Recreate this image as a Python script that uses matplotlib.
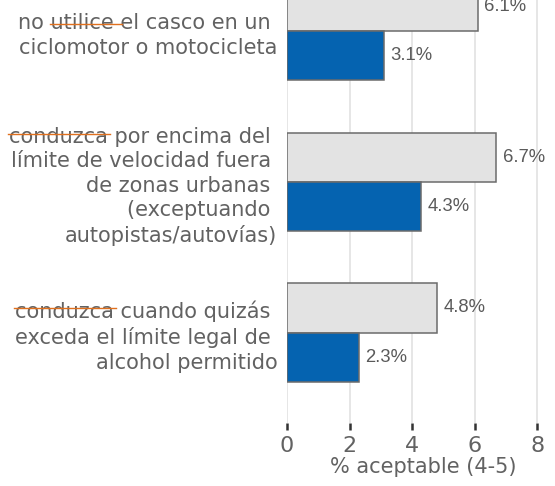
import matplotlib
matplotlib.use("Agg")
import matplotlib.pyplot as plt
from matplotlib.lines import Line2D
import numpy as np

categories = [
    "no utilice el casco en un \nciclomotor o motocicleta",
    "conduzca por encima del \nlímite de velocidad fuera \nde zonas urbanas \n(exceptuando \nautopistas/autovías)",
    "conduzca cuando quizás \nexceda el límite legal de \nalcohol permitido",
]
series_gray = [6.1, 6.7, 4.8]
series_blue = [3.1, 4.3, 2.3]
xticks = [0, 2, 4, 6, 8]
xlabel = "% aceptable (4-5)"
# words marked with an orange line in the first line of each label: (prefix, word, height fraction of x-height)
marked = [("no ", "utilice ", 0.5), ("", "conduzca", 0.8), ("", "conduzca", 0.8)]

gray_fill = "#E3E3E3"
blue_fill = "#0563B0"
edge = "#6B6B6B"
text_col = "#626262"
FS = 15

fig = plt.figure(figsize=(5.55, 4.86), dpi=100)
ax = fig.add_axes([287 / 555, 63 / 486, (559 - 287) / 555, 1 - 63 / 486])

y = np.arange(len(categories))
h = 0.327
ax.barh(y - h / 2, series_gray, height=h, color=gray_fill, edgecolor=edge, linewidth=1.1, zorder=3)
ax.barh(y + h / 2, series_blue, height=h, color=blue_fill, edgecolor=edge, linewidth=1.1, zorder=3)

for yi, v in zip(y - h / 2, series_gray):
    ax.annotate(f"{v:.1f}%", (v, yi), xytext=(4.5, 0), textcoords="offset points",
                ha="left", va="center", fontsize=13.3, color="#5A5A5A",
                family="Liberation Sans")
for yi, v in zip(y + h / 2, series_blue):
    ax.annotate(f"{v:.1f}%", (v, yi), xytext=(4.5, 0), textcoords="offset points",
                ha="left", va="center", fontsize=13.3, color="#5A5A5A",
                family="Liberation Sans")

ax.set_xlim(0, 8.7)
ax.set_ylim(2.6, -0.207)
ax.set_xticks(xticks)
ax.set_xticklabels([str(t) for t in xticks])
ax.set_yticks(y)
ax.set_yticklabels(categories, fontsize=FS, color=text_col, linespacing=1.28)
for lbl in ax.get_yticklabels():
    lbl.set_multialignment("right")

ax.tick_params(axis="y", length=0, pad=7)
ax.tick_params(axis="x", length=5, width=1.8, color="#333333", direction="out",
               labelsize=16, labelcolor=text_col, pad=4)
ax.grid(axis="x", color="#E2E2E2", linewidth=1.2, zorder=0)
ax.set_axisbelow(True)
for s in ax.spines.values():
    s.set_visible(False)

ax.set_xlabel(xlabel, fontsize=15, color=text_col, labelpad=1)

# orange marks through words, positioned from the rendered label extents
fig.canvas.draw()
renderer = fig.canvas.get_renderer()

def text_width(s):
    t = fig.text(0, 0, s, fontsize=FS)
    w = t.get_window_extent(renderer).width
    t.remove()
    return w

xh = text_width("x")
t = fig.text(0, 0, "d", fontsize=FS)
asc = t.get_window_extent(renderer).height
t.remove()
for lbl, (prefix, word, frac) in zip(ax.get_yticklabels(), marked):
    bb = lbl.get_window_extent(renderer)
    first = lbl.get_text().split("\n")[0]
    x0 = bb.x1 - text_width(first) + (text_width(prefix) if prefix else 0)
    x1 = x0 + text_width(word)
    base = bb.y1 - asc * 0.78
    yy = base + xh * 0.85 * frac
    fig.add_artist(Line2D([x0 - 1, x1 + 2], [yy, yy], transform=None,
                          color="#E0701E", linewidth=1.0, zorder=5))

fig.savefig("out.png", dpi=100)
